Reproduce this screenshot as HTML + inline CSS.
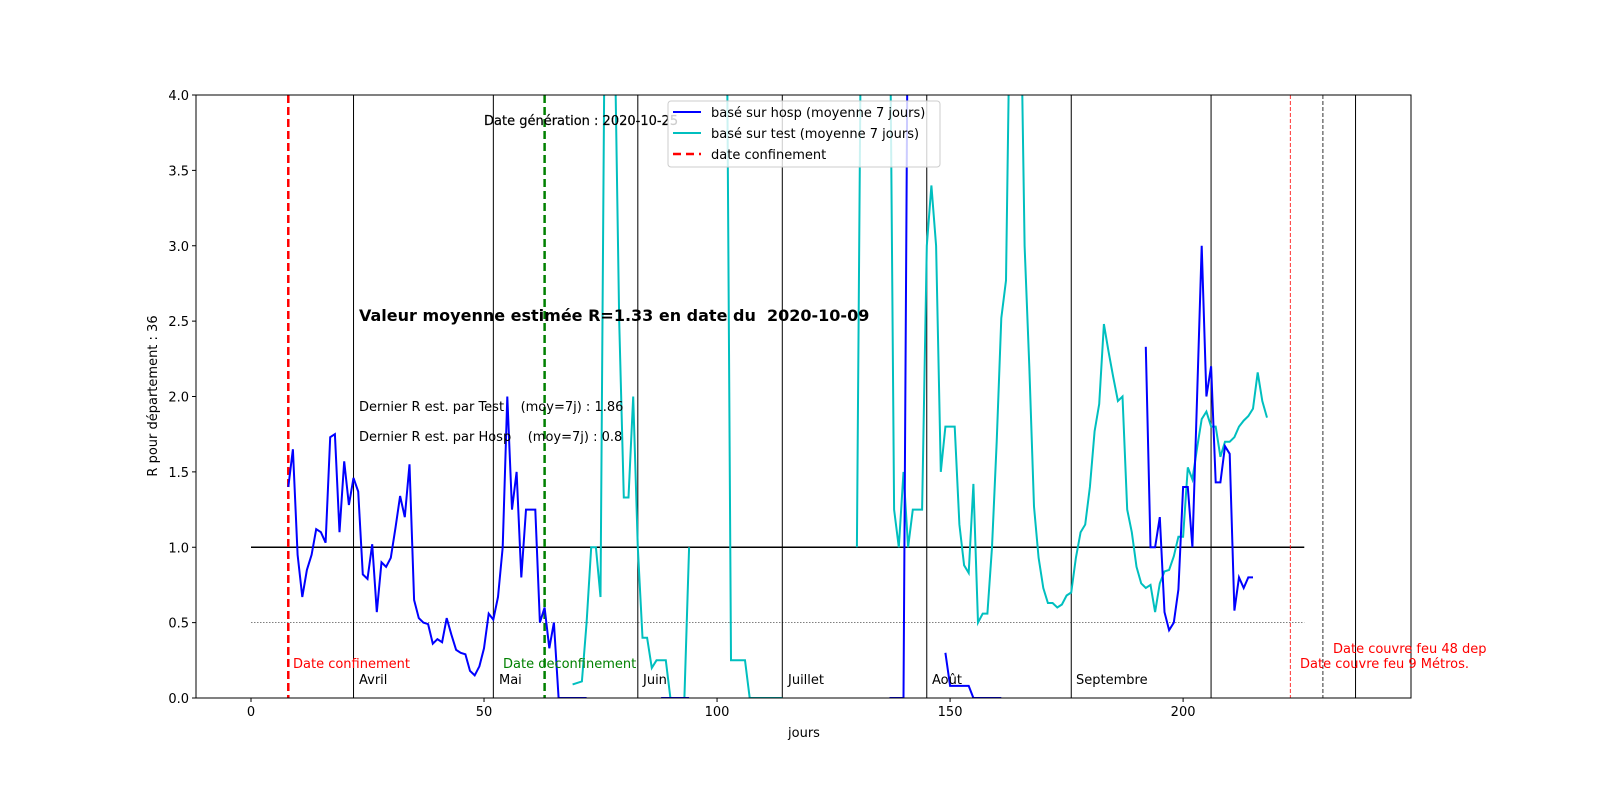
<!DOCTYPE html>
<html><head><meta charset="utf-8"><style>
body{margin:0;background:#fff;}
svg{font-family:"DejaVu Sans","Liberation Sans",sans-serif;}
</style></head><body>
<svg id="chart" width="1600" height="800" xmlns="http://www.w3.org/2000/svg">
<defs><clipPath id="clip"><rect x="196" y="95" width="1215" height="603"/></clipPath></defs>
<g id="grid"></g>
<g id="series" clip-path="url(#clip)"></g>
<rect x="196" y="95" width="1215" height="603" fill="none" stroke="#000" stroke-width="1"/>
<g id="axes"></g>
<g id="texts">
<text x="484" y="125" font-size="13" stroke="#000" stroke-width="0.2">Date génération : 2020-10-25</text>
<text x="359" y="321" font-size="16" font-weight="bold" xml:space="preserve">Valeur moyenne estimée R=1.33 en date du  2020-10-09</text>
<text x="359" y="411" font-size="13" xml:space="preserve">Dernier R est. par Test    (moy=7j) : 1.86</text>
<text x="359" y="441" font-size="13" xml:space="preserve">Dernier R est. par Hosp    (moy=7j) : 0.8</text>
<text x="293" y="668" font-size="13" fill="#ff0000">Date confinement</text>
<text x="503" y="668" font-size="13" fill="#008000">Date deconfinement</text>
<text x="1333" y="653" font-size="13" fill="#ff0000">Date couvre feu 48 dep</text>
<text x="1300" y="668" font-size="13" fill="#ff0000">Date couvre feu 9 Métros.</text>
<text x="359" y="684" font-size="13">Avril</text>
<text x="499" y="684" font-size="13">Mai</text>
<text x="643" y="684" font-size="13">Juin</text>
<text x="788" y="684" font-size="13">Juillet</text>
<text x="932" y="684" font-size="13">Août</text>
<text x="1076" y="684" font-size="13">Septembre</text>
<text x="804" y="737" font-size="13" text-anchor="middle">jours</text>
<text x="157" y="396" font-size="13" text-anchor="middle" transform="rotate(-90 157 396)">R pour département : 36</text>
</g>
<g>
<rect x="668" y="101" width="272" height="66" rx="3" fill="#fff" fill-opacity="0.8" stroke="#ccc"/>
<line x1="673" y1="112" x2="701" y2="112" stroke="#0000ff" stroke-width="2"/>
<text x="711" y="117" font-size="13">basé sur hosp (moyenne 7 jours)</text>
<line x1="673" y1="133" x2="701" y2="133" stroke="#00bfbf" stroke-width="2"/>
<text x="711" y="138" font-size="13">basé sur test (moyenne 7 jours)</text>
<line x1="673" y1="154" x2="701" y2="154" stroke="#ff0000" stroke-width="2.5" stroke-dasharray="8,5"/>
<text x="711" y="159" font-size="13">date confinement</text>
</g>
</svg>
<script>
const xTicks=[0,50,100,150,200];
const yTicks=[0.0,0.5,1.0,1.5,2.0,2.5,3.0,3.5,4.0];
const hospDays=[8,9,10,11,12,13,14,15,16,17,18,19,20,21,22,23,24,25,26,27,28,29,30,31,32,33,34,35,36,37,38,39,40,41,42,43,44,45,46,47,48,49,50,51,52,53,54,55,56,57,58,59,60,61,62,63,64,65,66,67,68,69,70,71,72,null,88,89,90,91,92,93,94,null,137,138,139,140,141,null,149,150,151,152,153,154,155,156,157,158,159,160,161,null,192,193,194,195,196,197,198,199,200,201,202,203,204,205,206,207,208,209,210,211,212,213,214,215];
const hospVals=[1.40,1.65,0.95,0.67,0.85,0.95,1.12,1.10,1.03,1.73,1.75,1.10,1.57,1.28,1.46,1.37,0.82,0.79,1.02,0.57,0.90,0.87,0.93,1.13,1.34,1.20,1.55,0.65,0.53,0.50,0.49,0.36,0.39,0.37,0.53,0.42,0.32,0.30,0.29,0.18,0.15,0.21,0.33,0.56,0.52,0.67,1.0,2.0,1.25,1.50,0.80,1.25,1.25,1.25,0.50,0.60,0.33,0.50,0,0,0,0,0,0,0,null,0,0,0,0,0,0,0,null,0,0,0,0,5,null,0.30,0.08,0.08,0.08,0.08,0.08,0,0,0,0,0,0,0,null,2.33,1.0,1.0,1.2,0.57,0.45,0.50,0.72,1.40,1.40,1.0,2.0,3.0,2.0,2.2,1.43,1.43,1.67,1.62,0.58,0.80,0.73,0.80,0.80];
const testDays=[69,71,72,73,74,75,76,77,78,79,80,81,82,83,84,85,86,87,88,89,90,91,92,93,94,null,102,103,104,105,106,107,108,109,110,111,112,113,114,null,130,131,null,137,138,139,140,141,142,143,144,145,146,147,148,149,150,151,152,153,154,155,156,157,158,159,160,161,162,163,164,165,166,167,168,169,170,171,172,173,174,175,176,177,178,179,180,181,182,183,184,185,186,187,188,189,190,191,192,193,194,195,196,197,198,199,200,201,202,203,204,205,206,207,208,209,210,211,212,213,214,215,216,217,218];
const testVals=[0.09,0.11,0.5,1.0,1.0,0.67,5,5,4.5,2.5,1.33,1.33,2.0,1.0,0.4,0.4,0.2,0.25,0.25,0.25,0,0,0,0,1.0,null,5,0.25,0.25,0.25,0.25,0,0,0,0,0,0,0,0,null,1.0,5,null,5,1.25,1.0,1.5,1.0,1.25,1.25,1.25,3.0,3.4,3.0,1.5,1.8,1.8,1.8,1.15,0.88,0.83,1.42,0.5,0.56,0.56,1.0,1.7,2.52,2.77,5,5,5,3.0,2.2,1.27,0.93,0.73,0.63,0.63,0.6,0.62,0.68,0.7,0.93,1.1,1.15,1.4,1.77,1.95,2.48,2.3,2.13,1.97,2.0,1.25,1.1,0.87,0.76,0.73,0.75,0.57,0.76,0.84,0.85,0.94,1.07,1.07,1.53,1.45,1.66,1.85,1.9,1.8,1.8,1.6,1.7,1.7,1.73,1.8,1.84,1.87,1.92,2.16,1.97,1.86];
const monthDays=[22,52,83,114,145,176,206,237];
const confinementDay=8, deconfinementDay=63, curfew48Day=223, curfew9Day=230;
const hLineStart=0, hLineEnd=226;

const NS="http://www.w3.org/2000/svg";
const X0=196,X1=1411,Y0=698,Y1=95,XMIN=-11.8,XMAX=248.9,YMIN=0,YMAX=4;
function sx(d){return X0+(d-XMIN)/(XMAX-XMIN)*(X1-X0);}
function sy(v){return Y0-(v-YMIN)/(YMAX-YMIN)*(Y0-Y1);}
function mk(tag,attrs,parent){const e=document.createElementNS(NS,tag);for(const k in attrs)e.setAttribute(k,attrs[k]);parent.appendChild(e);return e;}
const grid=document.getElementById('grid'),series=document.getElementById('series'),axes=document.getElementById('axes');

monthDays.forEach(d=>{const l=mk('line',{x1:sx(d),x2:sx(d),y1:Y1,y2:Y0,stroke:'#000','stroke-width':1},grid);

});
let l;
l=mk('line',{x1:sx(hLineStart),x2:sx(hLineEnd),y1:sy(1),y2:sy(1),stroke:'#000','stroke-width':1.5},grid);


l=mk('line',{x1:sx(hLineStart),x2:sx(hLineEnd),y1:sy(0.5),y2:sy(0.5),stroke:'#000','stroke-width':0.6,'stroke-dasharray':'1.5,1.5'},grid);


l=mk('line',{x1:sx(confinementDay),x2:sx(confinementDay),y1:Y1,y2:Y0,stroke:'#ff0000','stroke-width':2.5,'stroke-dasharray':'8,4'},grid);


l=mk('line',{x1:sx(deconfinementDay),x2:sx(deconfinementDay),y1:Y1,y2:Y0,stroke:'#008000','stroke-width':2.5,'stroke-dasharray':'8,4'},grid);


l=mk('line',{x1:sx(curfew48Day),x2:sx(curfew48Day),y1:Y1,y2:Y0,stroke:'#ff0000','stroke-width':0.8,'stroke-dasharray':'4,2'},grid);


l=mk('line',{x1:sx(curfew9Day),x2:sx(curfew9Day),y1:Y1,y2:Y0,stroke:'#000','stroke-width':0.8,'stroke-dasharray':'4,2'},grid);



function pathFor(days,vals){let d='',pen=false;for(let i=0;i<days.length;i++){if(days[i]===null||vals[i]===null){pen=false;continue;}d+=(pen?'L':'M')+sx(days[i]).toFixed(1)+','+sy(vals[i]).toFixed(1);pen=true;}return d;}
let p=mk('path',{d:pathFor(testDays,testVals),fill:'none',stroke:'#00bfbf','stroke-width':2},series);


p=mk('path',{d:pathFor(hospDays,hospVals),fill:'none',stroke:'#0000ff','stroke-width':2},series);



xTicks.forEach(t=>{const x=sx(t);const tk=mk('line',{x1:x,x2:x,y1:Y0,y2:Y0+4,stroke:'#000'},axes);


const tx=mk('text',{x:x,y:Y0+18,'font-size':13,'text-anchor':'middle'},axes);tx.textContent=t;

});
yTicks.forEach(t=>{const y=sy(t);const tk=mk('line',{x1:X0-4,x2:X0,y1:y,y2:y,stroke:'#000'},axes);


const tx=mk('text',{x:X0-7,y:y+5,'font-size':13,'text-anchor':'end'},axes);tx.textContent=t.toFixed(1);

});
</script>
</body></html>
